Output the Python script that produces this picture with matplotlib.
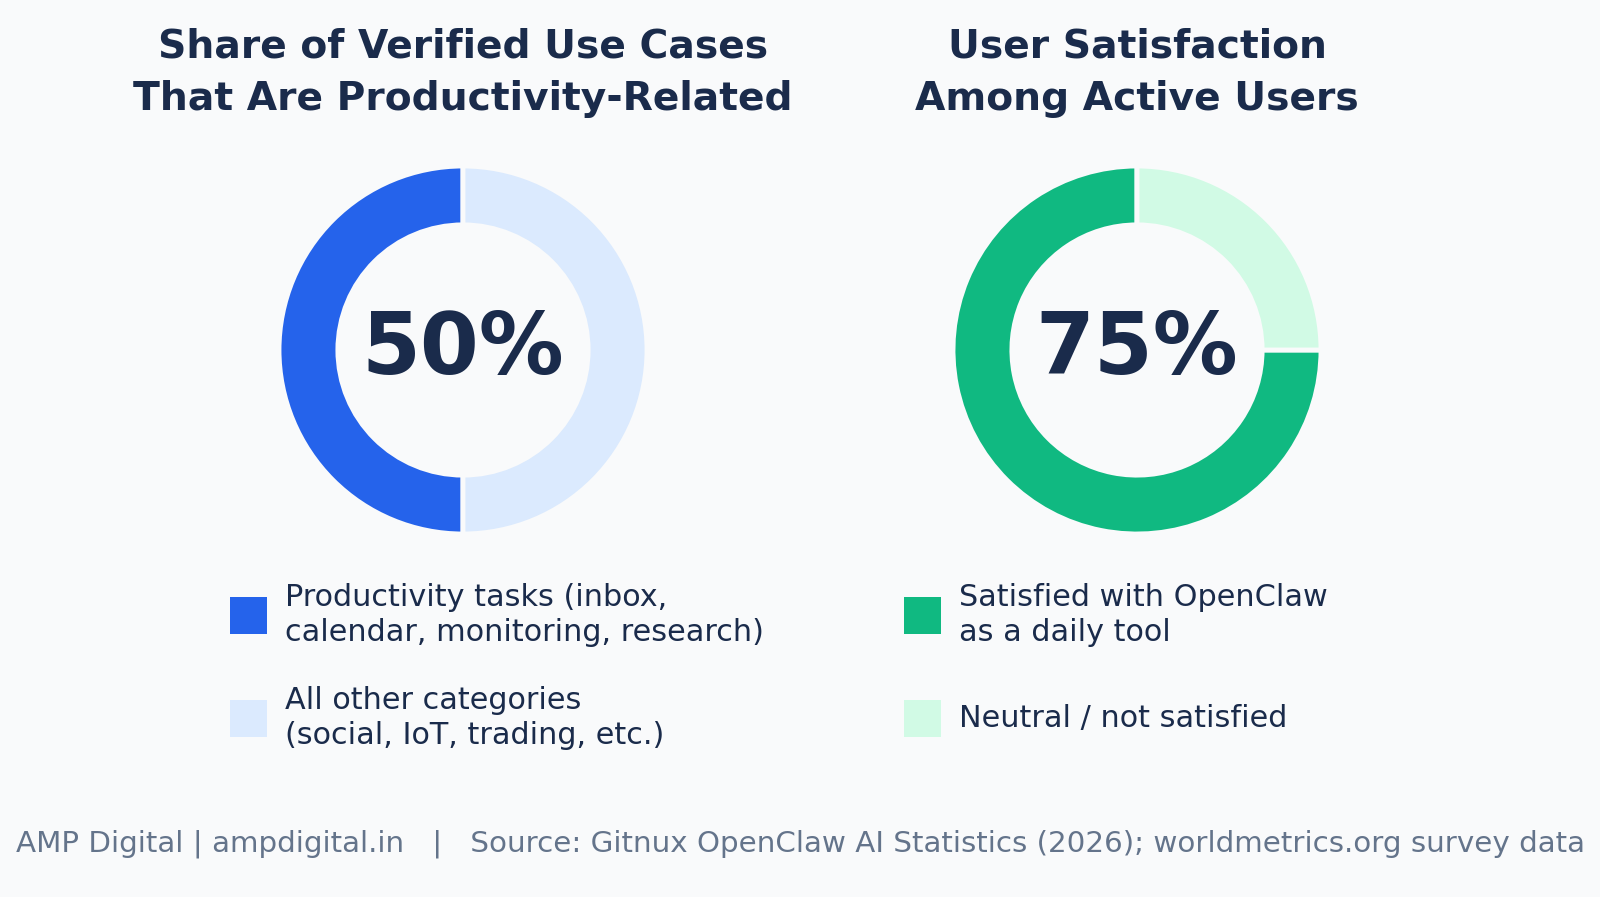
import matplotlib
matplotlib.use("Agg")
import matplotlib.pyplot as plt
from matplotlib.patches import Rectangle

# ---- data ----
left_title = "Share of Verified Use Cases\nThat Are Productivity-Related"
left_values = [50, 50]
left_labels = ["Productivity tasks (inbox,\ncalendar, monitoring, research)",
               "All other categories\n(social, IoT, trading, etc.)"]
left_colors = ["#2563eb", "#dbeafe"]

right_title = "User Satisfaction\nAmong Active Users"
right_values = [75, 25]
right_labels = ["Satisfied with OpenClaw\nas a daily tool",
                "Neutral / not satisfied"]
right_colors = ["#10b981", "#d1fae5"]

footer = "AMP Digital | ampdigital.in   |   Source: Gitnux OpenClaw AI Statistics (2026); worldmetrics.org survey data"

BG = "#f9fafb"
NAVY = "#1a2b4b"
GRAY = "#64748b"

W, H = 1600, 897
fig = plt.figure(figsize=(W / 100, H / 100), dpi=100, facecolor=BG)

def fx(px):
    return px / W

def fy(py):
    return 1 - py / H

R = 184
CY = 350

def donut(cx, values, colors, title, labels, leg_x):
    ax = fig.add_axes([fx(cx - R), fy(CY + R), 2 * R / W, 2 * R / H])
    ax.set_facecolor(BG)
    ax.pie(values, colors=colors, startangle=90, counterclock=True,
           radius=1.0,
           wedgeprops=dict(width=0.32, edgecolor=BG, linewidth=3.5))
    ax.set_xlim(-1, 1)
    ax.set_ylim(-1, 1)
    ax.set_aspect("equal")
    ax.axis("off")
    ax.text(0, 0, f"{values[0]}%", ha="center", va="center",
            fontsize=61, fontweight="bold", color=NAVY)
    fig.text(fx(cx), fy(73), title, ha="center", va="center",
             fontsize=28.3, fontweight="bold", color=NAVY, linespacing=1.47)
    # legend
    sq = 37
    for lab, col, yc in zip(labels, colors, [615, 718]):
        fig.patches.append(Rectangle((fx(leg_x), fy(yc + sq / 2)), sq / W, sq / H,
                                     transform=fig.transFigure, facecolor=col,
                                     edgecolor="none"))
        fig.text(fx(leg_x + sq + 18), fy(yc), lab, ha="left", va="center",
                 fontsize=21.8, color=NAVY, linespacing=1.3)

donut(463, left_values, left_colors, left_title, left_labels, 230)
donut(1137, right_values, right_colors, right_title, right_labels, 904)

fig.text(0.5, fy(844), footer, ha="center", va="center", fontsize=21.2, color=GRAY)

fig.savefig("out.png", dpi=100, facecolor=BG)
